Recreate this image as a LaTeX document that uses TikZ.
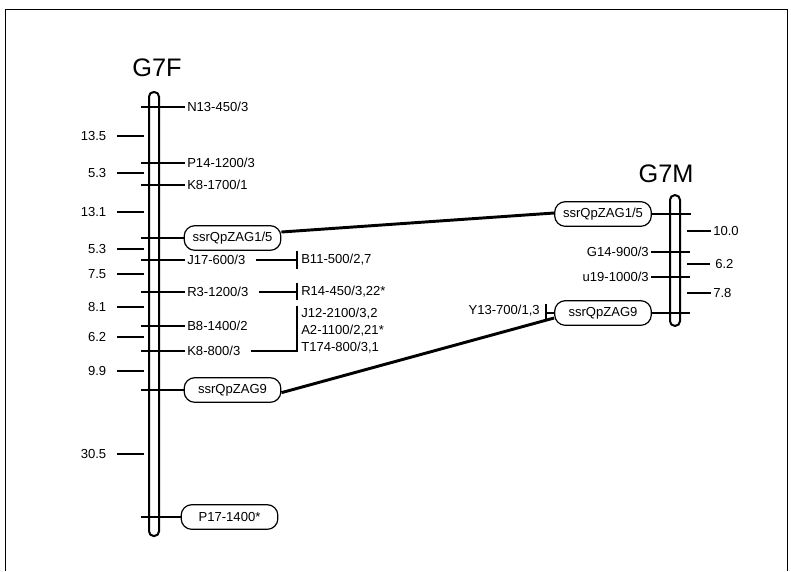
\documentclass[tikz,border=0pt]{standalone}
\usepackage{fontspec}
\setmainfont{Liberation Sans}
\begin{document}
\begin{tikzpicture}[x=0.75pt,y=-0.75pt,
  lbl/.style={inner sep=1.5pt,font=\fontsize{9.8}{11}\selectfont},
  title/.style={inner sep=0pt,font=\fontsize{19}{22}\selectfont},
  chrom/.style={draw,line width=1.5pt,rounded corners=3.5pt,minimum width=7.5pt,inner sep=0pt},
  mbox/.style={draw,line width=0.9pt,rounded corners=8pt,minimum width=72.5pt,minimum height=18.5pt,inner sep=0pt,font=\fontsize{9.8}{11}\selectfont},
  tick/.style={line width=0.8pt},
  link/.style={line width=2.2pt}]
\useasboundingbox (0,0) rectangle (791,571);
% frame
\draw[line width=0.7pt] (5,571) -- (5,9) -- (787,9) -- (787,571);

% titles
\node[title] (tF) at (157,68) {G7F};
\node[title] (tM) at (666,174) {G7M};

% G7F markers (drawn before chromosome)
\foreach \nm/\yy/\tx in {n13/107/{N13-450/3}, p14/163/{P14-1200/3}, k8a/185/{K8-1700/1}, j17/260/{J17-600/3}, r3/292/{R3-1200/3}, b8/326/{B8-1400/2}, k8b/351/{K8-800/3}}{
  \node[lbl,anchor=west] (\nm) at (185,\yy) {\tx};
  \draw[tick] (\nm.west) -- ++(-44,0);
}
\node[mbox] (f1) at (232.5,238) {ssrQpZAG1/5};
\draw[tick] (f1.west) -- ++(-43,0);
\node[mbox] (f2) at (232.5,390) {ssrQpZAG9};
\draw[tick] (f2.west) -- ++(-43,0);
\node[mbox] (f3) at (229.5,517) {P17-1400*};
\draw[tick] (f3.west) -- ++(-40,0);

% G7F distances
\foreach \nm/\yy/\tx in {d1/136/13.5, d2/173/5.3, d3/212/13.1, d4/249/5.3, d5/274/7.5, d6/307/8.1, d7/337/6.2, d8/371/9.9, d9/454/30.5}{
  \node[lbl,anchor=east] (\nm) at (108.5,\yy) {\tx};
  \draw[tick] (\nm.east) ++(8.5,0) -- ++(27,0);
}

% G7F chromosome
\node[chrom,minimum height=333pt,fill=white] (cF) at (154,314) {};
\foreach \yy in {107,163,185,238,260,292,326,351,390,517}{
  \draw[tick] (146,\yy) -- (162,\yy);
}

% secondary markers
\node[lbl,anchor=west] (b11) at (299,260) {B11-500/2,7};
\draw[tick] (j17.east) ++(8,0) -- ([xshift=-1.5pt]b11.west);
\draw[tick] ([xshift=-1.5pt,yshift=7pt]b11.west) -- ([xshift=-1.5pt,yshift=-6.5pt]b11.west);

\node[lbl,anchor=west] (r14) at (299,292) {R14-450/3,22*};
\draw[tick] (r3.east) ++(8,0) -- ([xshift=-1.5pt]r14.west);
\draw[tick] ([xshift=-1.5pt,yshift=7pt]r14.west) -- ([xshift=-1.5pt,yshift=-6pt]r14.west);

\node[lbl,anchor=west] (j12) at (299,314) {J12-2100/3,2};
\node[lbl,anchor=west] (a2) at (299,331) {A2-1100/2,21*};
\node[lbl,anchor=west] (t174) at (299,348) {T174-800/3,1};
\coordinate (barB) at (297,351);
\coordinate (barT) at (297,306);
\draw[tick] (k8b.east) ++(8,0) -- (barB) -- (barT);

% G7M
\node[mbox] (m1) at (603,214) {ssrQpZAG1/5};
\draw[tick] (m1.east) -- ++(39,0);
\node[mbox] (m2) at (603,313) {ssrQpZAG9};
\draw[tick] (m2.east) -- ++(38,0);
\node[lbl,anchor=east] (g14) at (651,252) {G14-900/3};
\draw[tick] (g14.east) -- ++(39,0);
\node[lbl,anchor=east] (u19) at (651,277) {u19-1000/3};
\draw[tick] (u19.east) -- ++(39,0);
\node[lbl,anchor=east] (y13) at (542,311) {Y13-700/1,3};
\coordinate (ybar) at (546,313);
\coordinate (ybarT) at (546,304);
\coordinate (ybarB) at (546,320);
\draw[tick] (ybarT) -- (ybarB);
\draw[tick] (ybar) -- (m2.west);

\node[lbl,anchor=west] (e1) at (711,231) {10.0};
\node[lbl,anchor=west] (e2) at (713,264) {6.2};
\node[lbl,anchor=west] (e3) at (711,293) {7.8};
\draw[tick] (e1.west) -- ++(-24,0);
\draw[tick] (e2.west) ++(-3,0) -- ++(-23,0);
\draw[tick] (e3.west) -- ++(-24,0);

\node[chrom,minimum height=98pt,fill=white] (cM) at (675,260.5) {};
\foreach \yy in {214,252,277,313}{
  \draw[tick] (671,\yy) -- (679,\yy);
}

% links
\draw[link] ([yshift=4.5pt]f1.east) -- ([yshift=0.75pt]m1.west);
\draw[link] ([yshift=-2pt]f2.east) -- ([yshift=-3.75pt]m2.west);
\end{tikzpicture}
\end{document}
